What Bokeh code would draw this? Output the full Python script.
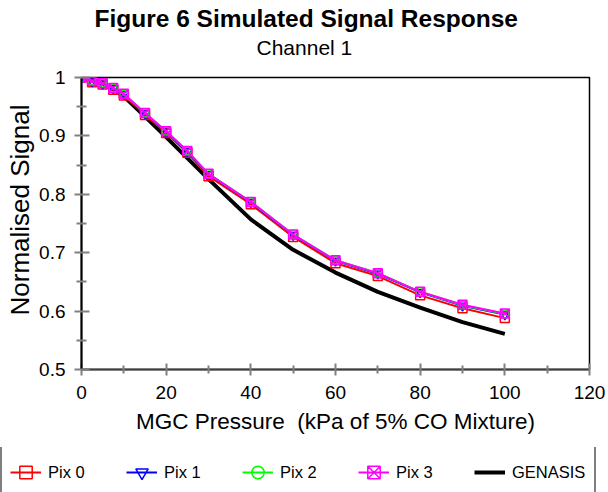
from bokeh.plotting import figure
from bokeh.layouts import column
from bokeh.models import Legend, LegendItem, Title, FixedTicker, Range1d
from bokeh.embed import file_html
from bokeh.resources import INLINE

# ---- data ----
pressure = [0, 2.5, 5, 7.5, 10, 15, 20, 25, 30, 40, 50, 60, 70, 80, 90, 100]
pix0 = [1.000, 0.992, 0.988, 0.979, 0.969, 0.936, 0.905, 0.871, 0.831, 0.783, 0.727, 0.682, 0.660, 0.627, 0.605, 0.588]
pix1 = [1.000, 0.993, 0.989, 0.981, 0.971, 0.938, 0.907, 0.873, 0.834, 0.786, 0.730, 0.686, 0.664, 0.632, 0.609, 0.594]
pix2 = [1.000, 0.994, 0.990, 0.982, 0.971, 0.939, 0.908, 0.874, 0.835, 0.787, 0.731, 0.687, 0.665, 0.633, 0.610, 0.595]
pix3 = [1.000, 0.994, 0.990, 0.982, 0.972, 0.939, 0.908, 0.874, 0.835, 0.787, 0.731, 0.687, 0.665, 0.633, 0.611, 0.596]
gen_pressure = [0, 2.5, 5, 10, 15, 20, 30, 40, 50, 60, 70, 80, 90, 100]
genasis = [1.000, 0.997, 0.990, 0.968, 0.933, 0.898, 0.826, 0.757, 0.705, 0.666, 0.633, 0.606, 0.581, 0.561]

series_labels = ["Pix 0", "Pix 1", "Pix 2", "Pix 3", "GENASIS"]
x_ticks = [0, 20, 40, 60, 80, 100, 120]
x_minor = [10, 30, 50, 70, 90, 110]
y_ticks = [0.5, 0.6, 0.7, 0.8, 0.9, 1.0]
y_tick_labels = ["0.5", "0.6", "0.7", "0.8", "0.9", "1"]
y_minor = [0.55, 0.65, 0.75, 0.85, 0.95]

FONT = "Liberation Sans"

series_y = [pix0, pix1, pix2, pix3]
styles = [("red", "square", 9), ("blue", "inverted_triangle", 9),
          ("#00ff00", "circle", 8), ("magenta", "square_x", 9)]

p = figure(frame_width=508, frame_height=292,
           x_range=Range1d(0, 120), y_range=Range1d(0.5, 1.0),
           output_backend="svg", toolbar_location=None, title=None,
           min_border_left=75, min_border_right=17,
           min_border_top=0, min_border_bottom=78)
p.frame_align = False

# spacer between subtitle and frame, then subtitle, then main title
p.add_layout(Title(text="\u00a0", text_font=FONT, text_font_size="15px",
                   standoff=0), "above")
p.add_layout(Title(text="Channel 1", text_font=FONT, text_font_size="21px",
                   text_font_style="normal", text_color="black",
                   align="left", offset=175, standoff=0), "above")
p.add_layout(Title(text="Figure 6 Simulated Signal Response", text_font=FONT,
                   text_font_size="24.5px", text_font_style="bold", text_color="black",
                   align="left", offset=13, standoff=4), "above")

p.xgrid.visible = False
p.ygrid.visible = False
p.outline_line_color = "black"
p.outline_line_width = 1.5
p.background_fill_color = "white"
p.border_fill_color = "white"

for ax in (p.xaxis[0], p.yaxis[0]):
    ax.major_label_text_font = FONT
    ax.major_label_text_font_size = "19px"
    ax.major_label_text_color = "black"
    ax.axis_label_text_font = FONT
    ax.axis_label_text_font_style = "normal"
    ax.axis_label_text_color = "black"
    ax.major_tick_line_color = "#808080"
    ax.minor_tick_line_color = "#808080"
    ax.major_tick_line_width = 2
    ax.minor_tick_line_width = 2

xa = p.xaxis[0]
xa.ticker = FixedTicker(ticks=x_ticks, minor_ticks=x_minor)
xa.axis_label = "MGC Pressure \u00a0(kPa of 5% CO Mixture)"
xa.axis_label_text_font_size = "22.5px"
xa.axis_line_color = "#404040"
xa.axis_line_width = 2
xa.major_tick_in = 6
xa.major_tick_out = 6
xa.minor_tick_in = 4
xa.minor_tick_out = 4
xa.major_label_standoff = 10
xa.axis_label_standoff = 7

ya = p.yaxis[0]
ya.ticker = FixedTicker(ticks=y_ticks, minor_ticks=y_minor)
ya.major_label_overrides = {v: s for v, s in zip(y_ticks, y_tick_labels)}
ya.axis_line_color = "black"
ya.axis_line_width = 2
ya.major_tick_in = 8
ya.major_tick_out = 7
ya.minor_tick_in = 5
ya.minor_tick_out = 5
ya.major_label_standoff = 9

p.add_layout(Title(text="Normalised Signal", text_font=FONT, text_font_size="26px",
                   text_font_style="normal", text_color="black",
                   align="left", offset=54, standoff=4), "left")

# series
p.line(gen_pressure, genasis, line_color="black", line_width=4)
for ys, (col, mk, sz) in zip(series_y, styles):
    p.line(pressure, ys, line_color=col, line_width=2)
    p.scatter(pressure, ys, marker=mk, size=sz, line_color=col,
              fill_color=None, line_width=1.5)

# ---- legend strip: its own figure, same series drawn outside its visible range ----
q = figure(width=600, height=47, output_backend="svg", toolbar_location=None,
           x_axis_location=None, y_axis_location=None, min_border=0,
           x_range=Range1d(1000, 1001), y_range=Range1d(1000, 1001))
q.frame_align = False
q.xgrid.visible = False
q.ygrid.visible = False
q.outline_line_color = None
q.background_fill_color = "white"
q.border_fill_color = "white"

items = []
for lab, ys, (col, mk, sz) in zip(series_labels[:4], series_y, styles):
    lr = q.line(pressure, ys, line_color=col, line_width=2)
    mr = q.scatter(pressure, ys, marker=mk, size=sz, line_color=col,
                   fill_color=None, line_width=1.5)
    items.append(LegendItem(label=lab, renderers=[lr, mr]))
gr = q.line(gen_pressure, genasis, line_color="black", line_width=4)
items.append(LegendItem(label=series_labels[4], renderers=[gr]))

legend = Legend(items=items, orientation="horizontal", location=(0, -8), margin=0,
                padding=8, spacing=4, glyph_width=31, glyph_height=40,
                label_standoff=7, label_width=74,
                label_text_font=FONT, label_text_font_size="16.5px",
                label_text_color="black",
                border_line_color="black", border_line_width=2,
                background_fill_color="white", background_fill_alpha=1.0)
q.add_layout(legend, "center")

layout = column(p, q, spacing=0)
open("out.html", "w").write(file_html(layout, INLINE))
